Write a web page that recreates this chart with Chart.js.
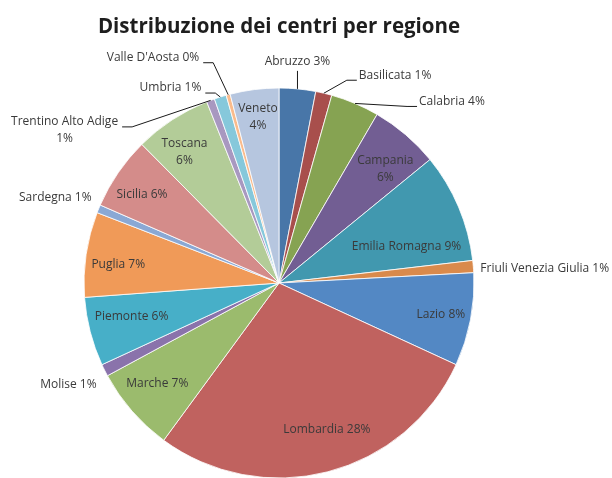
<!DOCTYPE html>
<html>
<head>
<meta charset="utf-8">
<script src="https://cdn.jsdelivr.net/npm/chart.js@4/dist/chart.umd.min.js"></script>
<style>
  html, body { margin: 0; background: #fff; }
</style>
</head>
<body>
<canvas id="pieChart" width="612" height="478"></canvas>
<script>
// Distribuzione dei centri per regione
const chartTitle = 'Distribuzione dei centri per regione';
const regions = ['Abruzzo', 'Basilicata', 'Calabria', 'Campania', 'Emilia Romagna',
  'Friuli Venezia Giulia', 'Lazio', 'Lombardia', 'Marche', 'Molise', 'Piemonte',
  'Puglia', 'Sardegna', 'Sicilia', 'Toscana', 'Trentino Alto Adige', 'Umbria',
  "Valle D'Aosta", 'Veneto'];
const centri = [9, 4, 12, 17, 27, 3, 23, 84, 21, 3, 17, 21, 2, 18, 19, 2, 3, 1, 12];
const sliceColors = ['#4876a8', '#a84f4c', '#86a352', '#725e93', '#4198af',
  '#d98a4c', '#5388c4', '#c0625f', '#9bbb6d', '#8a73ab', '#47afc8',
  '#f09a58', '#8aa8d4', '#d48c8a', '#b3cc98', '#a898c0', '#86c8db',
  '#f9bb8c', '#b6c6df'];

// label placement: inside = [angle shift (deg), radius factor] from slice middle
// outside = pixel offset from the slice rim, with optional leader line
const labelLayout = [
  { off: [0, -27], align: 'center', leader: 'bottom' },
  { off: [35, -18], align: 'left', leader: 'left' },
  { off: [64, -2], align: 'left', leader: 'left' },
  { inside: [2.5, 0.80], wrap: true },
  { inside: [7, 0.68] },
  { off: [7, 2], align: 'left' },
  { inside: [0, 0.845] },
  { inside: [-3.6, 0.79] },
  { inside: [1.5, 0.81] },
  { off: [-8, 14], align: 'right' },
  { inside: [1.8, 0.775] },
  { inside: [-1.8, 0.83] },
  { off: [-7, -11], align: 'right' },
  { inside: [-1.7, 0.835] },
  { inside: [-2.7, 0.826], wrap: true },
  { off: [-146, 30], align: 'center', leader: 'right', wrap: true },
  { off: [-19, -9], align: 'right', leader: 'right' },
  { off: [-29, -37], align: 'right', leader: 'right' },
  { inside: [0, 0.856], wrap: true }
];

const sliceLabels = {
  id: 'sliceLabels',
  afterDatasetsDraw(chart) {
    const ctx = chart.ctx;
    const meta = chart.getDatasetMeta(0);
    const total = centri.reduce((a, b) => a + b, 0);
    const lineH = 17;
    ctx.save();
    ctx.font = '12px "Open Sans"';
    ctx.textBaseline = 'middle';
    meta.data.forEach((arc, i) => {
      const p = arc.getProps(['x', 'y', 'startAngle', 'endAngle', 'outerRadius'], true);
      const mid = (p.startAngle + p.endAngle) / 2;
      const L = labelLayout[i];
      const pct = Math.round(centri[i] / total * 100) + '%';
      const lines = L.wrap ? [regions[i], pct] : [regions[i] + ' ' + pct];
      const rimX = p.x + Math.cos(mid) * p.outerRadius;
      const rimY = p.y + Math.sin(mid) * p.outerRadius;
      let tx, ty, align;
      if (L.inside) {
        const a = mid + L.inside[0] * Math.PI / 180;
        tx = p.x + Math.cos(a) * p.outerRadius * L.inside[1];
        ty = p.y + Math.sin(a) * p.outerRadius * L.inside[1];
        align = 'center';
      } else {
        tx = rimX + L.off[0];
        ty = rimY + L.off[1];
        align = L.align;
      }
      const y0 = ty - (lines.length - 1) * lineH / 2;
      const w = Math.max(...lines.map(s => ctx.measureText(s).width));
      const left = align === 'left' ? tx : align === 'right' ? tx - w : tx - w / 2;
      // Leader lines
      if (L.leader) {
        ctx.beginPath();
        ctx.strokeStyle = '#1a1a1a';
        ctx.lineWidth = 1;
        ctx.moveTo(rimX, rimY);
        if (L.leader === 'bottom') {
          ctx.lineTo(rimX, ty + 9);
        } else if (L.leader === 'left') {
          const ax = left - 2, ay = y0 + 5;
          ctx.lineTo(ax - 10, ay);
          ctx.lineTo(ax, ay);
        } else {
          const ax = left + w + 4, ay = y0 + 5;
          ctx.lineTo(ax + 10, ay);
          ctx.lineTo(ax, ay);
        }
        ctx.stroke();
      }
      ctx.fillStyle = '#3a3a3a';
      ctx.textAlign = align;
      lines.forEach((s, k) => ctx.fillText(s, tx, y0 + k * lineH));
    });
    ctx.restore();
  }
};

const ctx = document.getElementById('pieChart').getContext('2d');
new Chart(ctx, {
  type: 'pie',
  data: {
    labels: regions,
    datasets: [{
      data: centri,
      backgroundColor: sliceColors,
      borderColor: '#ffffff',
      borderWidth: 0.8,
      hoverOffset: 0,
      radius: 195
    }]
  },
  options: {
    responsive: false,
    animation: false,
    layout: { padding: { top: 0, left: 0, right: 54, bottom: 0 } },
    plugins: {
      legend: { display: false },
      tooltip: { enabled: false },
      title: {
        display: true,
        text: chartTitle,
        color: '#1e1e1e',
        font: { family: 'Open Sans', size: 20.5, weight: 'bold' },
        padding: { top: 15, bottom: 48.4 }
      }
    }
  },
  plugins: [sliceLabels]
});
</script>
</body>
</html>
